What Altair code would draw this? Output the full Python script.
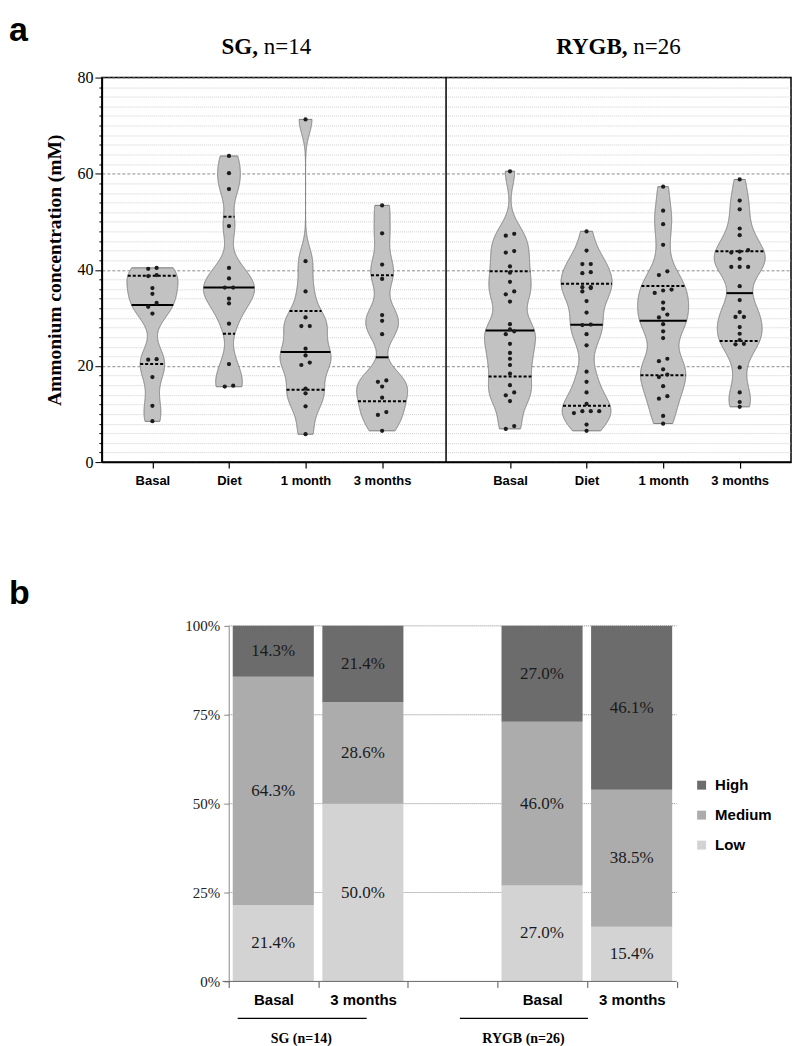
import altair as alt
import numpy as np
import pandas as pd

# ---------------- data: panel a (ammonium concentration, mM) ----------------
timepoints = ["Basal", "Diet", "1 month", "3 months"]
surgeries = ["SG", "RYGB"]
n_patients = [14, 26]

sg_basal = [40.2, 40.4, 38.7, 38.9, 36.2, 35.0, 33.1, 32.3, 30.9, 21.4, 21.3, 17.7, 11.7, 8.5]
sg_diet = [63.7, 60.1, 56.8, 49.1, 40.4, 38.2, 36.3, 36.3, 34.0, 33.0, 28.8, 20.4, 15.7, 15.9]
sg_1month = [71.3, 41.8, 35.5, 30.1, 28.3, 28.3, 23.6, 22.2, 20.7, 20.2, 15.3, 14.3, 11.6, 5.8]
sg_3months = [53.4, 47.6, 41.1, 38.1, 30.6, 29.4, 26.6, 17.0, 16.7, 15.7, 13.4, 10.4, 9.8, 6.5]

rygb_basal = [60.5, 47.5, 47.1, 43.6, 43.9, 40.7, 39.4, 37.5, 34.9, 35.5, 33.4, 28.7, 27.6,
              27.2, 26.6, 24.6, 22.7, 21.5, 20.2, 18.4, 16.0, 14.5, 13.9, 12.7, 6.9, 7.5]
rygb_diet = [48.0, 44.0, 41.2, 41.2, 39.5, 39.3, 36.4, 36.4, 36.2, 35.5, 33.5, 31.1, 28.5,
             28.6, 26.6, 24.3, 18.8, 16.7, 14.5, 12.1, 10.6, 10.6, 10.2, 10.6, 7.8, 6.5]
rygb_1month = [57.3, 52.3, 49.5, 45.2, 38.9, 39.7, 35.7, 35.2, 35.9, 33.2, 31.9, 30.7, 30.1,
               28.7, 27.2, 25.8, 21.5, 21.0, 19.3, 18.2, 17.7, 15.8, 13.2, 13.7, 9.6, 8.0]
rygb_3months = [58.8, 54.4, 52.6, 48.6, 47.2, 43.8, 44.1, 43.6, 42.3, 40.6, 40.6, 40.6, 36.6,
                33.7, 31.2, 30.2, 30.2, 28.1, 26.7, 25.4, 24.5, 24.6, 19.7, 14.5, 12.5, 11.5]

series_a = {
    "SG": [sg_basal, sg_diet, sg_1month, sg_3months],
    "RYGB": [rygb_basal, rygb_diet, rygb_1month, rygb_3months],
}

# ---------------- data: panel b (distribution of categories, %) ----------------
b_surgery = ["SG", "SG", "RYGB", "RYGB"]
b_time = ["Basal", "3 months", "Basal", "3 months"]
levels = ["High", "Medium", "Low"]
high_pct = [14.3, 21.4, 27.0, 46.1]
medium_pct = [64.3, 28.6, 46.0, 38.5]
low_pct = [21.4, 50.0, 27.0, 15.4]
level_colors = ["#6c6c6c", "#acacac", "#d3d3d3"]

# ---------------- layout constants ----------------
A_W, A_H = 690, 385
B_W, B_H = 690, 356
B_TOP = 164            # gap between the two plot areas
SERIF = "Liberation Serif"
SANS = "Liberation Sans"

X_DOMAIN_A = [0.34, 9.34]
POSITIONS = {"SG": [1, 2, 3, 4], "RYGB": [5.67, 6.67, 7.67, 8.67]}
DIVIDER = 4.835
HALF = 0.333          # max half-width of a violin (x units)
DOT_STEP = 0.11       # horizontal spacing of swarm dots (x units)
BW = 3.0              # KDE bandwidth


def swarm_offsets(vals, tol=0.85):
    vals = np.asarray(vals, dtype=float)
    order = np.argsort(vals, kind="stable")
    rows, cur = [], [order[0]]
    for idx in order[1:]:
        if vals[idx] - vals[cur[0]] <= tol + 1e-9:
            cur.append(idx)
        else:
            rows.append(cur)
            cur = [idx]
    rows.append(cur)
    offs = np.zeros(len(vals))
    for r in rows:
        k = len(r)
        for j, idx in enumerate(r):
            offs[idx] = j - (k - 1) / 2
    return offs


rows = []
for s in surgeries:
    for t, pos, vals in zip(timepoints, POSITIONS[s], series_a[s]):
        arr = np.asarray(vals, dtype=float)
        q1, med, q3 = np.percentile(arr, [25, 50, 75], method="weibull")
        offs = swarm_offsets(arr) * DOT_STEP
        for v, o in zip(arr, offs):
            rows.append(dict(grp=f"{s} {t}", pos=pos, value=v, xpt=pos + o,
                             q1=round(q1, 3), med=round(med, 3), q3=round(q3, 3),
                             vmin=arr.min(), vmax=arr.max()))
df_a = pd.DataFrame(rows)

all_pos = POSITIONS["SG"] + POSITIONS["RYGB"]
lab_expr = "''"
for p, lab in reversed(list(zip(all_pos, timepoints * 2))):
    lab_expr = f"abs(datum.value - {p}) < 0.01 ? '{lab}' : ({lab_expr})"

XS_A = alt.Scale(domain=X_DOMAIN_A, nice=False, zero=False)
XA_A = alt.Axis(values=all_pos, labelExpr=lab_expr, title=None, grid=False,
                tickSize=6, tickColor="black", tickWidth=1.2,
                domainColor="black", domainWidth=1.5,
                labelFont=SANS, labelFontWeight="bold", labelFontSize=13,
                labelColor="black", labelPadding=6, labelOverlap=False, labelFlush=False)
YS_A = alt.Scale(domain=[0, 80], nice=False, zero=True)
YA_A = alt.Axis(values=list(range(0, 81, 2)),
                labelExpr="datum.value % 20 === 0 ? datum.label : ''",
                title="Ammonium concentration (mM)", titleFont=SERIF, titleFontSize=19.5,
                titleFontWeight="bold", titleColor="black", titlePadding=12,
                labelFont=SERIF, labelFontSize=16, labelColor="black", labelPadding=2,
                labelOverlap=False, labelFlush=False,
                tickColor="black", tickWidth=1,
                tickSize={"condition": {"test": "datum.value % 20 === 0", "value": 7}, "value": 3},
                domainColor="black", domainWidth=1.5,
                grid=True, gridWidth=1,
                gridColor={"condition": {"test": "datum.value % 20 === 0", "value": "#8c8c8c"},
                           "value": "#d0d0d0"},
                gridDash={"condition": {"test": "datum.value % 20 === 0", "value": [3, 2]},
                          "value": [1, 1]})


def Xa(f):
    return alt.X(f, type="quantitative", scale=XS_A, axis=XA_A)


def Ya(f):
    return alt.Y(f, type="quantitative", scale=YS_A, axis=YA_A)


# kernel density per group, cut at each group's own min / max
dens = alt.Chart(df_a).transform_density(
    "value", groupby=["grp", "pos", "q1", "med", "q3", "vmin", "vmax"], bandwidth=BW,
    steps=1300, as_=["value", "density"]
).transform_filter(
    "datum.value >= datum.vmin - 0.03 && datum.value <= datum.vmax + 0.03"
).transform_joinaggregate(
    dmax="max(density)", groupby=["grp"]
).transform_calculate(
    hw=f"datum.density / datum.dmax * {HALF}",
    xl="datum.pos - datum.hw",
    xr="datum.pos + datum.hw",
)

violins = dens.mark_area(orient="horizontal", fill="#c2c2c2", stroke="#7a7a7a",
                         strokeWidth=1, fillOpacity=1).encode(
    y=Ya("value"), x=Xa("xl"), x2="xr", detail="grp:N")


def qline(field, dash=None):
    kw = dict(color="black", strokeWidth=2)
    if dash:
        kw["strokeDash"] = dash
    return dens.transform_calculate(
        dist=f"abs(datum.value - datum.{field})"
    ).transform_window(
        rk="row_number()", groupby=["grp"], sort=[alt.SortField("dist", order="ascending")]
    ).transform_filter("datum.rk == 1").mark_rule(**kw).encode(
        y=Ya(field), x=Xa("xl"), x2="xr")


q1_lines = qline("q1", [3, 2])
q3_lines = qline("q3", [3, 2])
med_lines = qline("med")

points = alt.Chart(df_a).mark_circle(size=18, color="#1c1c1c", opacity=1).encode(
    x=Xa("xpt"), y=Ya("value"))

divider = alt.Chart(pd.DataFrame({"xdiv": [DIVIDER]})).mark_rule(
    color="black", strokeWidth=1.5).encode(x=Xa("xdiv"))

left_c = (X_DOMAIN_A[0] + DIVIDER) / 2
right_c = (DIVIDER + X_DOMAIN_A[1]) / 2
title_layers = []
for cx, bold_txt, reg_txt, split in [(left_c, "SG,", f"n={n_patients[0]}", -16),
                                     (right_c, "RYGB,", f"n={n_patients[1]}", 9)]:
    tdf = pd.DataFrame({"xc": [cx], "b": [bold_txt], "r": [reg_txt]})
    title_layers.append(alt.Chart(tdf).mark_text(
        font=SERIF, fontSize=23, fontWeight="bold", align="right", baseline="alphabetic",
        dx=split, color="black").encode(x=Xa("xc"), y=alt.value(-24), text="b:N"))
    title_layers.append(alt.Chart(tdf).mark_text(
        font=SERIF, fontSize=23, align="left", baseline="alphabetic",
        dx=split + 5.8, color="black").encode(x=Xa("xc"), y=alt.value(-24), text="r:N"))

label_a = alt.Chart(pd.DataFrame({"t": ["a"]})).mark_text(
    font=SANS, fontSize=34, fontWeight="bold", align="left", baseline="alphabetic",
    color="black").encode(x=alt.value(-93), y=alt.value(-37), text="t:N")

panel_a = alt.layer(violins, q1_lines, q3_lines, med_lines, points, divider,
                    *title_layers, label_a).properties(
    width=A_W, height=A_H,
    view=alt.ViewBackground(stroke="black", strokeWidth=1.5))

# ---------------- panel b ----------------
b_rows = []
slots = [0, 1, 3, 4]
for i in range(4):
    for lev, vals, order in [("Low", low_pct, 0), ("Medium", medium_pct, 1), ("High", high_pct, 2)]:
        b_rows.append(dict(slot=slots[i], surgery=b_surgery[i], time=b_time[i],
                           level=lev, pct=vals[i], order=order))
df_b = pd.DataFrame(b_rows)

X_DOMAIN_B = [-127 / 89.7, (B_W - 127) / 89.7]
XS_B = alt.Scale(domain=X_DOMAIN_B, nice=False, zero=False)
XA_B = alt.Axis(values=[0, 0.5, 1, 1.5, 2, 3, 3.5, 4, 4.5, 5],
                labelExpr="(datum.value == 0.5 || datum.value == 3.5) ? 'Basal' : "
                          "((datum.value == 1.5 || datum.value == 4.5) ? '3 months' : '')",
                tickOpacity={"condition": {"test": "datum.value % 1 === 0", "value": 1}, "value": 0},
                tickSize=6, tickColor="#555555", domain=False, grid=False, title=None,
                labelFont=SANS, labelFontWeight="bold", labelFontSize=15, labelColor="black",
                labelPadding=5, labelOverlap=False, labelFlush=False)
YS_B = alt.Scale(domain=[0, 1], nice=False)
YA_B = alt.Axis(values=[0, 0.25, 0.5, 0.75, 1], format="%", offset=-127, grid=False,
                title=None, domainColor="#888888", tickColor="#888888", tickSize=5,
                labelFont=SERIF, labelFontSize=15, labelColor="#222222", labelPadding=4,
                labelFlush=False, labelOverlap=False)


def Xb(f):
    return alt.X(f, type="quantitative", scale=XS_B, axis=XA_B)


def Yb(f):
    return alt.Y(f, type="quantitative", scale=YS_B, axis=YA_B)


stacked = alt.Chart(df_b).transform_calculate(
    frac="datum.pct / 100"
).transform_stack(
    stack="frac", groupby=["slot"], as_=["y0", "y1"],
    sort=[alt.SortField("order", order="ascending")]
).transform_calculate(
    x0="datum.slot + 0.045", x1="datum.slot + 0.95",
    xm="datum.slot + 0.4975", ym="(datum.y0 + datum.y1) / 2",
    lab="format(datum.pct, '.1f') + '%'",
)

# legend coordinates are relative to the origin of the top panel's plot area
bars = stacked.mark_bar(stroke=None).encode(
    x=Xb("x0"), x2="x1", y=Yb("y0"), y2="y1",
    color=alt.Color("level:N", scale=alt.Scale(domain=levels, range=level_colors),
                    legend=alt.Legend(orient="none", legendX=593,
                                      legendY=A_H + B_TOP + 152, title=None,
                                      symbolType="square", symbolSize=80,
                                      symbolStrokeWidth=0, symbolOpacity=1,
                                      labelFont=SANS, labelFontWeight="bold",
                                      labelFontSize=15, labelColor="black",
                                      rowPadding=14, labelOffset=6)))

bar_text = stacked.mark_text(font=SERIF, fontSize=17, color="#1a1a1a",
                             baseline="middle", align="center").encode(
    x=Xb("xm"), y=Yb("ym"), text="lab:N")

grid_df = pd.DataFrame({"g": [0.25, 0.5, 0.75, 1.0], "gx0": [0] * 4, "gx1": [5] * 4})
grid_b = alt.Chart(grid_df).mark_rule(color="#8a8a8a", strokeDash=[1, 1], strokeWidth=1).encode(
    y=Yb("g"), x=Xb("gx0"), x2="gx1")

base_df = pd.DataFrame({"by": [0], "bx0": [-0.07], "bx1": [5]})
baseline_b = alt.Chart(base_df).mark_rule(color="#666666", strokeWidth=1).encode(
    y=Yb("by"), x=Xb("bx0"), x2="bx1")

grp_lab_df = pd.DataFrame({"lab": [f"SG (n={n_patients[0]})", f"RYGB (n={n_patients[1]})"],
                           "lx": [0.81, 3.29], "ux0": [0.10, 2.58], "ux1": [1.54, 4.01]})
underline = alt.Chart(grp_lab_df).mark_rule(color="black", strokeWidth=1.3).encode(
    x=Xb("ux0"), x2="ux1", y=alt.value(B_H + 37))
grp_labels = alt.Chart(grp_lab_df).mark_text(font=SERIF, fontSize=14, fontWeight="bold",
                                             color="black", baseline="middle").encode(
    x=Xb("lx"), y=alt.value(B_H + 58), text="lab:N")

label_b = alt.Chart(pd.DataFrame({"t": ["b"]})).mark_text(
    font=SANS, fontSize=34, fontWeight="bold", align="left", baseline="alphabetic",
    color="black").encode(x=alt.value(-93), y=alt.value(-22), text="t:N")

panel_b = alt.layer(grid_b, bars, bar_text, baseline_b, underline, grp_labels,
                    label_b).properties(width=B_W, height=B_H)

chart = alt.vconcat(panel_a, panel_b, spacing=B_TOP, bounds="flush").properties(
    padding={"top": 4, "left": 0, "right": 0, "bottom": 0}).configure_view(stroke=None)

chart.save("out.html", embed_options={"renderer": "svg", "actions": False})
